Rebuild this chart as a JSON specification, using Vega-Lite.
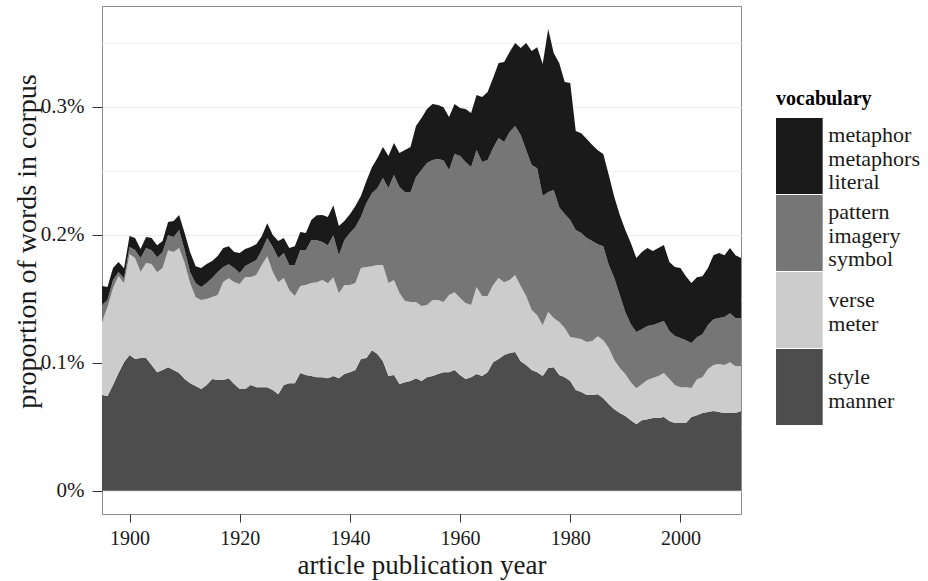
{
  "$schema": "https://vega.github.io/schema/vega-lite/v6.json",
  "width": 639,
  "height": 508,
  "autosize": {"type": "none"},
  "padding": {"left": 102, "top": 6, "right": 187, "bottom": 67},
  "background": "white",
  "config": {
    "font": "Liberation Serif",
    "view": {"stroke": "#8c8c8c", "strokeWidth": 1},
    "style": {"guide-label": {"lineHeight": 23.5}},
    "axis": {"titleFontWeight": "normal", "domain": false}
  },
  "datasets": {
    "vocabularies": [
      {"vocabulary": "style", "stack": 1},
      {"vocabulary": "verse", "stack": 2},
      {"vocabulary": "pattern", "stack": 3},
      {"vocabulary": "metaphor", "stack": 4}
    ],
    "proportions": [
      {"year": 1895, "style": 0.0748, "verse": 0.0570, "pattern": 0.0133, "metaphor": 0.0148},
      {"year": 1896, "style": 0.0740, "verse": 0.0695, "pattern": 0.0055, "metaphor": 0.0102},
      {"year": 1897, "style": 0.0826, "verse": 0.0758, "pattern": 0.0063, "metaphor": 0.0094},
      {"year": 1898, "style": 0.0920, "verse": 0.0758, "pattern": 0.0031, "metaphor": 0.0078},
      {"year": 1899, "style": 0.1005, "verse": 0.0617, "pattern": 0.0039, "metaphor": 0.0078},
      {"year": 1900, "style": 0.1060, "verse": 0.0789, "pattern": 0.0055, "metaphor": 0.0086},
      {"year": 1901, "style": 0.1029, "verse": 0.0789, "pattern": 0.0063, "metaphor": 0.0094},
      {"year": 1902, "style": 0.1037, "verse": 0.0672, "pattern": 0.0109, "metaphor": 0.0070},
      {"year": 1903, "style": 0.1037, "verse": 0.0742, "pattern": 0.0117, "metaphor": 0.0086},
      {"year": 1904, "style": 0.0982, "verse": 0.0789, "pattern": 0.0109, "metaphor": 0.0094},
      {"year": 1905, "style": 0.0927, "verse": 0.0781, "pattern": 0.0117, "metaphor": 0.0094},
      {"year": 1906, "style": 0.0943, "verse": 0.0797, "pattern": 0.0125, "metaphor": 0.0086},
      {"year": 1907, "style": 0.0966, "verse": 0.0914, "pattern": 0.0117, "metaphor": 0.0102},
      {"year": 1908, "style": 0.0943, "verse": 0.0922, "pattern": 0.0117, "metaphor": 0.0125},
      {"year": 1909, "style": 0.0920, "verse": 0.0977, "pattern": 0.0141, "metaphor": 0.0117},
      {"year": 1910, "style": 0.0873, "verse": 0.0906, "pattern": 0.0102, "metaphor": 0.0133},
      {"year": 1911, "style": 0.0841, "verse": 0.0781, "pattern": 0.0086, "metaphor": 0.0156},
      {"year": 1912, "style": 0.0818, "verse": 0.0695, "pattern": 0.0109, "metaphor": 0.0133},
      {"year": 1913, "style": 0.0795, "verse": 0.0695, "pattern": 0.0102, "metaphor": 0.0148},
      {"year": 1914, "style": 0.0826, "verse": 0.0672, "pattern": 0.0125, "metaphor": 0.0148},
      {"year": 1915, "style": 0.0873, "verse": 0.0641, "pattern": 0.0148, "metaphor": 0.0133},
      {"year": 1916, "style": 0.0865, "verse": 0.0664, "pattern": 0.0180, "metaphor": 0.0125},
      {"year": 1917, "style": 0.0865, "verse": 0.0766, "pattern": 0.0117, "metaphor": 0.0148},
      {"year": 1918, "style": 0.0880, "verse": 0.0781, "pattern": 0.0109, "metaphor": 0.0141},
      {"year": 1919, "style": 0.0834, "verse": 0.0797, "pattern": 0.0109, "metaphor": 0.0125},
      {"year": 1920, "style": 0.0795, "verse": 0.0820, "pattern": 0.0086, "metaphor": 0.0156},
      {"year": 1921, "style": 0.0795, "verse": 0.0875, "pattern": 0.0086, "metaphor": 0.0133},
      {"year": 1922, "style": 0.0826, "verse": 0.0844, "pattern": 0.0109, "metaphor": 0.0125},
      {"year": 1923, "style": 0.0810, "verse": 0.0875, "pattern": 0.0117, "metaphor": 0.0125},
      {"year": 1924, "style": 0.0810, "verse": 0.0953, "pattern": 0.0117, "metaphor": 0.0109},
      {"year": 1925, "style": 0.0810, "verse": 0.1023, "pattern": 0.0141, "metaphor": 0.0117},
      {"year": 1926, "style": 0.0787, "verse": 0.0922, "pattern": 0.0195, "metaphor": 0.0094},
      {"year": 1927, "style": 0.0755, "verse": 0.0875, "pattern": 0.0188, "metaphor": 0.0133},
      {"year": 1928, "style": 0.0826, "verse": 0.0836, "pattern": 0.0195, "metaphor": 0.0117},
      {"year": 1929, "style": 0.0841, "verse": 0.0727, "pattern": 0.0195, "metaphor": 0.0133},
      {"year": 1930, "style": 0.0841, "verse": 0.0680, "pattern": 0.0242, "metaphor": 0.0148},
      {"year": 1931, "style": 0.0920, "verse": 0.0680, "pattern": 0.0281, "metaphor": 0.0141},
      {"year": 1932, "style": 0.0904, "verse": 0.0703, "pattern": 0.0273, "metaphor": 0.0133},
      {"year": 1933, "style": 0.0896, "verse": 0.0727, "pattern": 0.0336, "metaphor": 0.0156},
      {"year": 1934, "style": 0.0888, "verse": 0.0742, "pattern": 0.0328, "metaphor": 0.0195},
      {"year": 1935, "style": 0.0888, "verse": 0.0758, "pattern": 0.0297, "metaphor": 0.0211},
      {"year": 1936, "style": 0.0880, "verse": 0.0742, "pattern": 0.0297, "metaphor": 0.0219},
      {"year": 1937, "style": 0.0896, "verse": 0.0773, "pattern": 0.0328, "metaphor": 0.0234},
      {"year": 1938, "style": 0.0880, "verse": 0.0664, "pattern": 0.0297, "metaphor": 0.0227},
      {"year": 1939, "style": 0.0912, "verse": 0.0695, "pattern": 0.0352, "metaphor": 0.0148},
      {"year": 1940, "style": 0.0927, "verse": 0.0680, "pattern": 0.0406, "metaphor": 0.0148},
      {"year": 1941, "style": 0.0943, "verse": 0.0680, "pattern": 0.0438, "metaphor": 0.0164},
      {"year": 1942, "style": 0.1029, "verse": 0.0711, "pattern": 0.0398, "metaphor": 0.0164},
      {"year": 1943, "style": 0.1037, "verse": 0.0711, "pattern": 0.0500, "metaphor": 0.0172},
      {"year": 1944, "style": 0.1099, "verse": 0.0656, "pattern": 0.0570, "metaphor": 0.0203},
      {"year": 1945, "style": 0.1068, "verse": 0.0695, "pattern": 0.0602, "metaphor": 0.0234},
      {"year": 1946, "style": 0.1013, "verse": 0.0750, "pattern": 0.0680, "metaphor": 0.0242},
      {"year": 1947, "style": 0.0896, "verse": 0.0727, "pattern": 0.0742, "metaphor": 0.0250},
      {"year": 1948, "style": 0.0904, "verse": 0.0742, "pattern": 0.0820, "metaphor": 0.0250},
      {"year": 1949, "style": 0.0834, "verse": 0.0711, "pattern": 0.0828, "metaphor": 0.0266},
      {"year": 1950, "style": 0.0849, "verse": 0.0633, "pattern": 0.0852, "metaphor": 0.0328},
      {"year": 1951, "style": 0.0857, "verse": 0.0617, "pattern": 0.0859, "metaphor": 0.0352},
      {"year": 1952, "style": 0.0880, "verse": 0.0594, "pattern": 0.0977, "metaphor": 0.0398},
      {"year": 1953, "style": 0.0857, "verse": 0.0586, "pattern": 0.1063, "metaphor": 0.0406},
      {"year": 1954, "style": 0.0888, "verse": 0.0563, "pattern": 0.1109, "metaphor": 0.0422},
      {"year": 1955, "style": 0.0896, "verse": 0.0594, "pattern": 0.1094, "metaphor": 0.0438},
      {"year": 1956, "style": 0.0912, "verse": 0.0578, "pattern": 0.1102, "metaphor": 0.0422},
      {"year": 1957, "style": 0.0927, "verse": 0.0547, "pattern": 0.1109, "metaphor": 0.0414},
      {"year": 1958, "style": 0.0927, "verse": 0.0602, "pattern": 0.0977, "metaphor": 0.0414},
      {"year": 1959, "style": 0.0943, "verse": 0.0609, "pattern": 0.1078, "metaphor": 0.0391},
      {"year": 1960, "style": 0.0904, "verse": 0.0602, "pattern": 0.1109, "metaphor": 0.0375},
      {"year": 1961, "style": 0.0873, "verse": 0.0594, "pattern": 0.1102, "metaphor": 0.0414},
      {"year": 1962, "style": 0.0888, "verse": 0.0563, "pattern": 0.1078, "metaphor": 0.0422},
      {"year": 1963, "style": 0.0912, "verse": 0.0680, "pattern": 0.1070, "metaphor": 0.0430},
      {"year": 1964, "style": 0.0896, "verse": 0.0625, "pattern": 0.1047, "metaphor": 0.0508},
      {"year": 1965, "style": 0.0927, "verse": 0.0594, "pattern": 0.1063, "metaphor": 0.0531},
      {"year": 1966, "style": 0.1005, "verse": 0.0602, "pattern": 0.1070, "metaphor": 0.0547},
      {"year": 1967, "style": 0.1029, "verse": 0.0633, "pattern": 0.1094, "metaphor": 0.0586},
      {"year": 1968, "style": 0.1060, "verse": 0.0570, "pattern": 0.1094, "metaphor": 0.0625},
      {"year": 1969, "style": 0.1076, "verse": 0.0570, "pattern": 0.1156, "metaphor": 0.0625},
      {"year": 1970, "style": 0.1084, "verse": 0.0602, "pattern": 0.1164, "metaphor": 0.0648},
      {"year": 1971, "style": 0.1013, "verse": 0.0586, "pattern": 0.1180, "metaphor": 0.0680},
      {"year": 1972, "style": 0.0982, "verse": 0.0539, "pattern": 0.1141, "metaphor": 0.0836},
      {"year": 1973, "style": 0.0943, "verse": 0.0469, "pattern": 0.1133, "metaphor": 0.0891},
      {"year": 1974, "style": 0.0927, "verse": 0.0445, "pattern": 0.1148, "metaphor": 0.0945},
      {"year": 1975, "style": 0.0896, "verse": 0.0398, "pattern": 0.1008, "metaphor": 0.1031},
      {"year": 1976, "style": 0.0959, "verse": 0.0438, "pattern": 0.0938, "metaphor": 0.1273},
      {"year": 1977, "style": 0.0966, "verse": 0.0383, "pattern": 0.1000, "metaphor": 0.1070},
      {"year": 1978, "style": 0.0904, "verse": 0.0414, "pattern": 0.0898, "metaphor": 0.1125},
      {"year": 1979, "style": 0.0888, "verse": 0.0383, "pattern": 0.0891, "metaphor": 0.1031},
      {"year": 1980, "style": 0.0857, "verse": 0.0344, "pattern": 0.0914, "metaphor": 0.1070},
      {"year": 1981, "style": 0.0787, "verse": 0.0406, "pattern": 0.0844, "metaphor": 0.0773},
      {"year": 1982, "style": 0.0771, "verse": 0.0414, "pattern": 0.0828, "metaphor": 0.0781},
      {"year": 1983, "style": 0.0748, "verse": 0.0414, "pattern": 0.0813, "metaphor": 0.0773},
      {"year": 1984, "style": 0.0748, "verse": 0.0422, "pattern": 0.0781, "metaphor": 0.0750},
      {"year": 1985, "style": 0.0755, "verse": 0.0453, "pattern": 0.0719, "metaphor": 0.0734},
      {"year": 1986, "style": 0.0724, "verse": 0.0453, "pattern": 0.0734, "metaphor": 0.0719},
      {"year": 1987, "style": 0.0677, "verse": 0.0438, "pattern": 0.0648, "metaphor": 0.0703},
      {"year": 1988, "style": 0.0638, "verse": 0.0383, "pattern": 0.0641, "metaphor": 0.0633},
      {"year": 1989, "style": 0.0607, "verse": 0.0352, "pattern": 0.0570, "metaphor": 0.0625},
      {"year": 1990, "style": 0.0584, "verse": 0.0328, "pattern": 0.0484, "metaphor": 0.0641},
      {"year": 1991, "style": 0.0552, "verse": 0.0297, "pattern": 0.0453, "metaphor": 0.0633},
      {"year": 1992, "style": 0.0521, "verse": 0.0281, "pattern": 0.0438, "metaphor": 0.0578},
      {"year": 1993, "style": 0.0552, "verse": 0.0281, "pattern": 0.0430, "metaphor": 0.0602},
      {"year": 1994, "style": 0.0560, "verse": 0.0305, "pattern": 0.0422, "metaphor": 0.0609},
      {"year": 1995, "style": 0.0568, "verse": 0.0313, "pattern": 0.0414, "metaphor": 0.0578},
      {"year": 1996, "style": 0.0568, "verse": 0.0328, "pattern": 0.0414, "metaphor": 0.0586},
      {"year": 1997, "style": 0.0576, "verse": 0.0344, "pattern": 0.0406, "metaphor": 0.0594},
      {"year": 1998, "style": 0.0545, "verse": 0.0328, "pattern": 0.0375, "metaphor": 0.0539},
      {"year": 1999, "style": 0.0529, "verse": 0.0297, "pattern": 0.0383, "metaphor": 0.0539},
      {"year": 2000, "style": 0.0529, "verse": 0.0281, "pattern": 0.0383, "metaphor": 0.0547},
      {"year": 2001, "style": 0.0529, "verse": 0.0281, "pattern": 0.0367, "metaphor": 0.0500},
      {"year": 2002, "style": 0.0576, "verse": 0.0227, "pattern": 0.0352, "metaphor": 0.0469},
      {"year": 2003, "style": 0.0591, "verse": 0.0281, "pattern": 0.0328, "metaphor": 0.0469},
      {"year": 2004, "style": 0.0607, "verse": 0.0281, "pattern": 0.0336, "metaphor": 0.0453},
      {"year": 2005, "style": 0.0615, "verse": 0.0336, "pattern": 0.0344, "metaphor": 0.0445},
      {"year": 2006, "style": 0.0623, "verse": 0.0359, "pattern": 0.0359, "metaphor": 0.0500},
      {"year": 2007, "style": 0.0615, "verse": 0.0375, "pattern": 0.0359, "metaphor": 0.0508},
      {"year": 2008, "style": 0.0607, "verse": 0.0375, "pattern": 0.0375, "metaphor": 0.0484},
      {"year": 2009, "style": 0.0607, "verse": 0.0398, "pattern": 0.0383, "metaphor": 0.0508},
      {"year": 2010, "style": 0.0607, "verse": 0.0367, "pattern": 0.0375, "metaphor": 0.0492},
      {"year": 2011, "style": 0.0623, "verse": 0.0352, "pattern": 0.0375, "metaphor": 0.0469}
    ]
  },
  "data": {"name": "proportions"},
  "transform": [
    {"fold": ["style", "verse", "pattern", "metaphor"], "as": ["vocabulary", "percent"]},
    {"lookup": "vocabulary", "from": {"data": {"name": "vocabularies"}, "key": "vocabulary", "fields": ["stack"]}}
  ],
  "mark": {"type": "area", "interpolate": "linear"},
  "encoding": {
    "x": {
      "field": "year",
      "type": "quantitative",
      "scale": {"domain": [1895, 2011], "nice": false, "zero": false},
      "axis": {
        "values": [1900, 1920, 1940, 1960, 1980, 2000],
        "format": "d",
        "title": "article publication year",
        "grid": false,
        "tickColor": "#333333",
        "tickSize": 8,
        "labelFontSize": 20,
        "labelColor": "#1a1a1a",
        "labelPadding": 6,
        "titleFontSize": 27,
        "titleColor": "#1a1a1a",
        "titleBaseline": "middle",
        "titleY": 51
      }
    },
    "y": {
      "field": "percent",
      "type": "quantitative",
      "stack": "zero",
      "scale": {"domain": [-0.0181, 0.3787], "nice": false, "zero": false},
      "axis": {
        "values": [0, 0.05, 0.1, 0.15, 0.2, 0.25, 0.3, 0.35],
        "labelExpr": "datum.value == 0 ? '0%' : (round(datum.value * 100) % 10 == 0 ? format(datum.value, '.1f') + '%' : '')",
        "title": "proportion of words in corpus",
        "grid": true,
        "gridColor": {"condition": {"test": "round(datum.value * 100) % 10 != 0", "value": "#f2f2f2"}, "value": "#ebebeb"},
        "gridWidth": 1.2,
        "tickColor": "#333333",
        "tickOpacity": {"condition": {"test": "round(datum.value * 100) % 10 != 0", "value": 0}, "value": 1},
        "tickSize": 10,
        "labelFontSize": 21,
        "labelColor": "#1a1a1a",
        "labelPadding": 8,
        "titleFontSize": 28,
        "titleColor": "#1a1a1a",
        "titleBaseline": "middle",
        "titleAlign": "center",
        "titleAngle": -90,
        "titleX": -75,
        "titleY": 235
      }
    },
    "color": {
      "field": "vocabulary",
      "type": "nominal",
      "scale": {
        "domain": ["metaphor", "pattern", "verse", "style"],
        "range": ["#1a1a1a", "#767676", "#cccccc", "#4d4d4d"]
      },
      "legend": {
        "title": "vocabulary",
        "orient": "none",
        "legendX": 674,
        "legendY": 83,
        "padding": 0,
        "titleFontSize": 20,
        "titleFontWeight": "bold",
        "titleColor": "#000000",
        "titlePadding": 9,
        "labelFontSize": 22,
        "labelColor": "#1a1a1a",
        "labelBaseline": "middle",
        "labelExpr": "datum.value == 'metaphor' ? ['metaphor', 'metaphors', 'literal'] : datum.value == 'pattern' ? ['pattern', 'imagery', 'symbol'] : datum.value == 'verse' ? ['verse', 'meter'] : ['style', 'manner']",
        "symbolType": "M-0.614,-1H0.614V1H-0.614Z",
        "symbolSize": 5776,
        "symbolStrokeWidth": 0,
        "symbolOffset": -14.65,
        "labelOffset": -9,
        "rowPadding": 1,
        "encode": {
          "labels": {
            "update": {
              "dy": {"signal": "datum.value == 'metaphor' || datum.value == 'pattern' ? -21 : -10"}
            }
          }
        }
      }
    },
    "order": {"field": "stack", "type": "quantitative", "sort": "ascending"}
  }
}
